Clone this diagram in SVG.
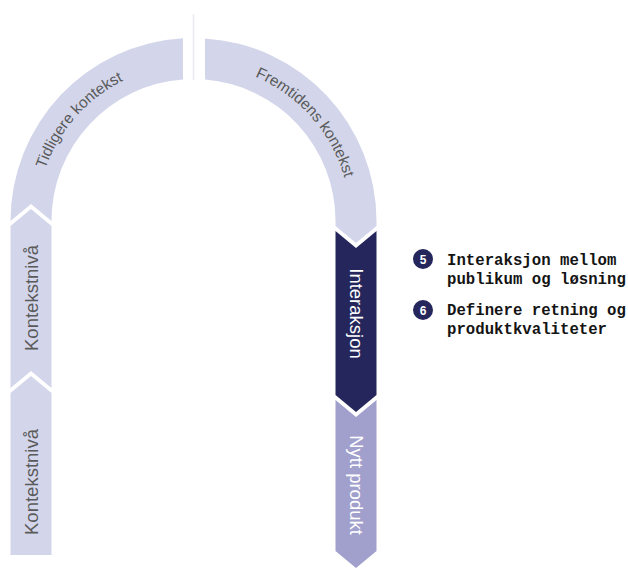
<svg xmlns="http://www.w3.org/2000/svg" width="628" height="570" viewBox="0 0 628 570">
  <defs>
    <style>
      .light { fill: #d3d6ea; }
      .dark { fill: #25275c; }
      .mid { fill: #a19fcc; }
      .lbl { font-family: "Liberation Sans", Arial, sans-serif; font-size: 18.5px; text-anchor: middle; }
      .arc { font-family: "Liberation Sans", Arial, sans-serif; font-size: 15.5px; fill: #5a5a5a; }
      .grey { fill: #5a5a5a; }
      .white { fill: #ffffff; }
      .num { fill: #25275c; }
      .numtxt { font-family: "Liberation Sans", Arial, sans-serif; font-size: 12px; font-weight: bold; fill: #ffffff; text-anchor: middle; }
      .item { font-family: "Liberation Mono", "DejaVu Sans Mono", monospace; font-size: 15.7px; font-weight: bold; fill: #141414; }
    </style>
    <!-- baselines for the curved labels, radius 157 around the arch centre -->
    <path id="arcLeft" d="M 36.5 221 A 157 157 0 0 1 193.5 64"/>
    <path id="arcRight" d="M 193.5 64 A 157 157 0 0 1 350.5 221"/>
  </defs>

  <rect width="628" height="570" fill="#ffffff"/>

  <!-- thin divider at the top of the arch -->
  <line x1="193.5" y1="14" x2="193.5" y2="80" stroke="#e8ebef" stroke-width="1.5"/>

  <!-- left leg -->
  <g id="tidligere-kontekst">
    <path class="light" d="M 10.5 221 A 183 183 0 0 1 183 38.3 L 183 79.4 A 142 142 0 0 0 51.5 221 L 31 204 Z"/>
    <text class="arc"><textPath href="#arcLeft" startOffset="46%" text-anchor="middle">Tidligere kontekst</textPath></text>
  </g>
  <g id="kontekstniva-1">
    <path class="light" d="M 10.5 226 L 31 209 L 51.5 226 L 51.5 388 L 31 371 L 10.5 388 Z"/>
    <text class="lbl grey" transform="translate(37.5,298) rotate(-90)">Kontekstnivå</text>
  </g>
  <g id="kontekstniva-2">
    <path class="light" d="M 10.5 393 L 31 376 L 51.5 393 L 51.5 555 L 10.5 555 Z"/>
    <text class="lbl grey" transform="translate(37.5,482) rotate(-90)">Kontekstnivå</text>
  </g>

  <!-- right leg -->
  <g id="fremtidens-kontekst">
    <path class="light" d="M 205 38.4 A 183 183 0 0 1 376.5 221 L 376.5 226 L 356 243 L 335.5 226 L 335.5 221 A 142 142 0 0 0 205 79.5 Z"/>
    <text class="arc"><textPath href="#arcRight" startOffset="54%" text-anchor="middle">Fremtidens kontekst</textPath></text>
  </g>
  <g id="interaksjon">
    <path class="dark" d="M 335.5 231 L 356 248 L 376.5 231 L 376.5 395 L 356 412 L 335.5 395 Z"/>
    <text class="lbl white" transform="translate(349.5,313.5) rotate(90)">Interaksjon</text>
  </g>
  <g id="nytt-produkt">
    <path class="mid" d="M 335.5 400 L 356 417 L 376.5 400 L 376.5 551 L 356 568 L 335.5 551 Z"/>
    <text class="lbl white" transform="translate(349.5,485) rotate(90)">Nytt produkt</text>
  </g>

  <!-- numbered notes -->
  <g id="note-5">
    <circle class="num" cx="423" cy="259" r="10"/>
    <text class="numtxt" x="423" y="263.5">5</text>
    <text class="item" x="447" y="265">Interaksjon mellom</text>
    <text class="item" x="447" y="284">publikum og løsning</text>
  </g>
  <g id="note-6">
    <circle class="num" cx="423" cy="310" r="10"/>
    <text class="numtxt" x="423" y="314.5">6</text>
    <text class="item" x="447" y="315">Definere retning og</text>
    <text class="item" x="447" y="334">produktkvaliteter</text>
  </g>

  <g id="connectors"/>
</svg>
